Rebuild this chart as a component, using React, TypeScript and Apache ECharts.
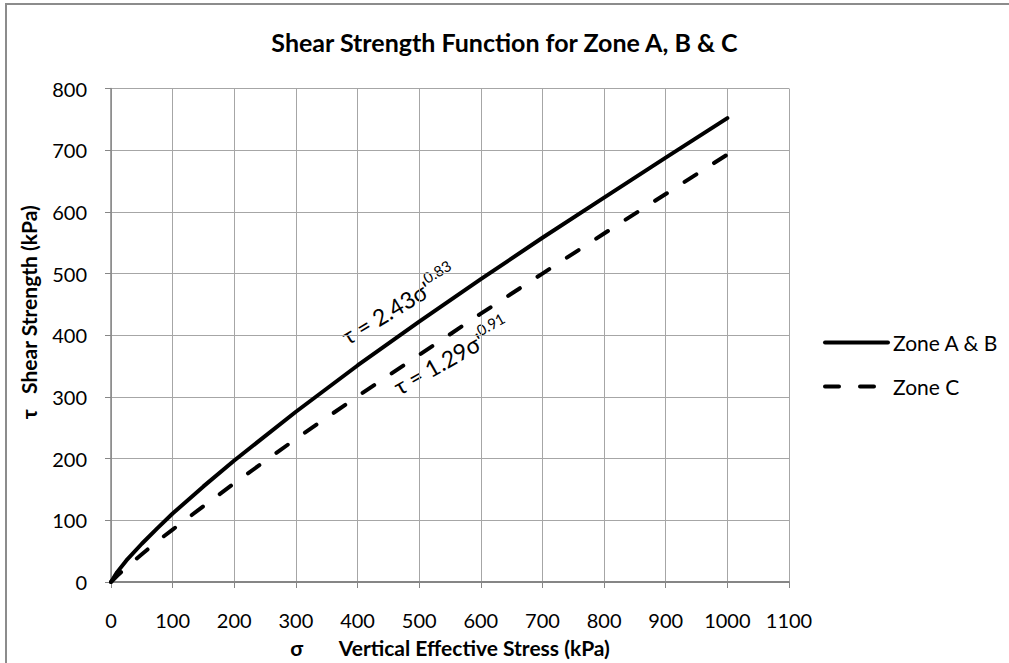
import React, { useEffect, useRef } from "react";
import * as echarts from "echarts";

const xValues = [0, 10, 25, 50, 75, 100, 150, 200, 300, 400, 500, 600, 700, 800, 900, 1000];
const zoneAB = [0, 16, 35, 62, 87, 111, 155, 197, 276, 351, 422, 491, 558, 623, 688, 752];
const zoneC = [0, 10, 24, 45, 66, 85, 123, 160, 232, 301, 368, 435, 500, 565, 629, 693];
const seriesNames = ["Zone A & B", "Zone C"];
const titleText = "Shear Strength Function for Zone A, B & C";
const xName = "σ       Vertical Effective Stress (kPa)";
const yName = "τ   Shear Strength (kPa)";
const eqAB = ["τ = 2.43σ'", "0.83"];
const eqC = ["τ = 1.29σ'", "0.91"];

const FONT = "Lato, 'Open Sans', sans-serif";

const eqRich = {
  m: { fontSize: 23, fontFamily: FONT, color: "#000", verticalAlign: "bottom", lineHeight: 28 },
  s: { fontSize: 15, fontFamily: FONT, color: "#000", verticalAlign: "top", padding: [0, 0, 16, 0], lineHeight: 28 },
};

export default function App() {
  const ref = useRef<HTMLDivElement>(null);
  useEffect(() => {
    if (!ref.current) return;
    const chart = echarts.init(ref.current, null, { renderer: "svg" });
    const pairs = (ys: number[]) => xValues.map((x, i) => [x, ys[i]]);
    chart.setOption({
      animation: false,
      backgroundColor: "#fff",
      textStyle: { fontFamily: FONT, color: "#000" },
      title: {
        text: titleText,
        left: "center",
        top: 24,
        textStyle: { fontFamily: FONT, fontWeight: "bold", fontSize: 25, color: "#000" },
      },
      grid: { left: 111, right: 220, top: 88.5, bottom: 77 },
      legend: {
        orient: "vertical",
        left: 823,
        top: 332,
        padding: 0,
        itemWidth: 63,
        itemHeight: 20,
        itemGap: 23,
        itemStyle: { opacity: 0 },
        lineStyle: { width: 4, cap: "round" },
        textStyle: { fontFamily: FONT, fontSize: 21, color: "#000" },
        data: seriesNames,
      },
      xAxis: {
        type: "value",
        min: 0,
        max: 1100,
        interval: 100,
        name: xName,
        nameLocation: "middle",
        nameGap: 55,
        nameTextStyle: { fontFamily: FONT, fontWeight: "bold", fontSize: 21, color: "#000" },
        axisLine: { show: true, lineStyle: { color: "#868686", width: 2 } },
        axisTick: { show: true, length: 6, lineStyle: { color: "#868686" } },
        axisLabel: { margin: 28, fontSize: 20, color: "#000", fontFamily: FONT, formatter: (v: number) => String(v) },
        splitLine: { show: true, lineStyle: { color: "#a6a6a6", width: 1 } },
      },
      yAxis: {
        type: "value",
        min: 0,
        max: 800,
        interval: 100,
        name: yName,
        nameLocation: "middle",
        nameGap: 72,
        nameTextStyle: { fontFamily: FONT, fontWeight: "bold", fontSize: 21, color: "#000", padding: [0, 0, 0, 46] },
        axisLine: { show: true, lineStyle: { color: "#868686", width: 1.5 } },
        axisTick: { show: true, length: 6, lineStyle: { color: "#868686" } },
        axisLabel: { margin: 24, fontSize: 20, color: "#000", fontFamily: FONT, formatter: (v: number) => String(v) },
        splitLine: { show: true, lineStyle: { color: "#a6a6a6", width: 1 } },
      },
      series: [
        {
          name: seriesNames[0],
          type: "line",
          data: pairs(zoneAB),
          symbol: "none",
          lineStyle: { color: "#000", width: 4, cap: "round" },
          itemStyle: { color: "#000" },
        },
        {
          name: seriesNames[1],
          type: "line",
          data: pairs(zoneC),
          symbol: "none",
          lineStyle: { color: "#000", width: 4, type: [14, 21], cap: "round" },
          itemStyle: { color: "#000" },
        },
      ],
      graphic: [
        {
          type: "rect",
          silent: true,
          shape: { x: 6, y: 4, width: 1200, height: 900 },
          style: { fill: "none", stroke: "#8c8c8c", lineWidth: 2 },
        },
        {
          type: "text",
          x: 342,
          y: 336,
          rotation: (31 * Math.PI) / 180,
          style: {
            text: `{m|${eqAB[0]}}{s|${eqAB[1]}}`,
            fontFamily: FONT,
            textAlign: "left",
            textVerticalAlign: "middle",
            rich: eqRich,
          },
        },
        {
          type: "text",
          x: 394,
          y: 386,
          rotation: (29.5 * Math.PI) / 180,
          style: {
            text: `{m|${eqC[0]}}{s|${eqC[1]}}`,
            fontFamily: FONT,
            textAlign: "left",
            textVerticalAlign: "middle",
            rich: eqRich,
          },
        },
      ],
    });
    return () => chart.dispose();
  }, []);
  return (
    <div
      ref={ref}
      style={{ position: "absolute", left: 0, top: 0, width: 1009, height: 663 }}
    />
  );
}
